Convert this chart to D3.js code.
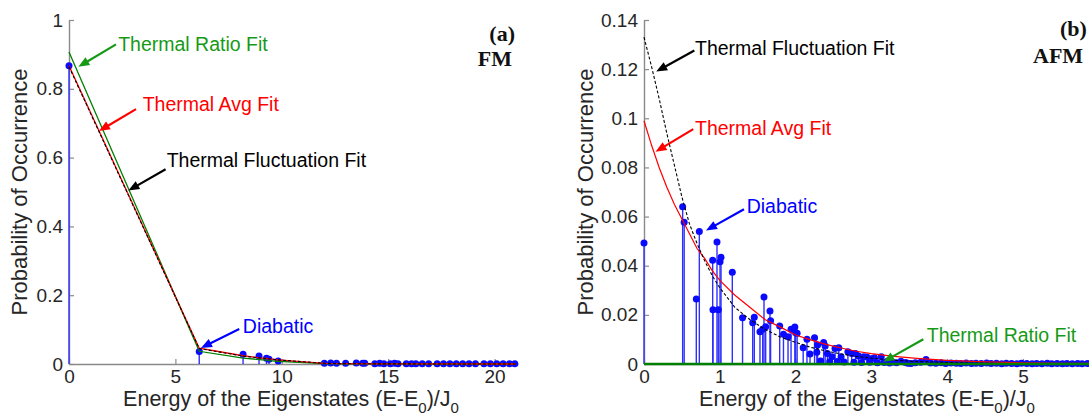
<!DOCTYPE html>
<html><head><meta charset="utf-8">
<script src="https://cdn.jsdelivr.net/npm/d3@7/dist/d3.min.js"></script>
<style>body{margin:0;background:#fff}svg{display:block}</style>
</head><body>
<svg id="chart" width="1089" height="415"></svg>
<script>
// ---------------- DATA ----------------
// Panel (a) FM
const leftEnergy = [0, 6.12, 8.18, 8.93, 9.28, 9.40, 9.83, 12.0, 12.3, 12.57, 13.0, 13.5, 13.8, 13.9, 14.37, 14.6, 14.8, 15.1, 15.3, 15.46, 15.85, 16.1, 16.3, 16.6, 16.9, 17.3, 17.6, 17.9, 18.2, 18.5, 18.8, 19.1, 19.5, 19.8, 20.1, 20.4, 20.7, 20.95];
const leftProb   = [0.867, 0.036, 0.028, 0.023, 0.017, 0.014, 0.009, 0.002, 0.003, 0.002, 0.002, 0.003, 0.002, 0.002, 0.001, 0.002, 0.001, 0.001, 0.002, 0.001, 0.001, 0.001, 0.001, 0.001, 0.001, 0.001, 0.001, 0.001, 0.001, 0.001, 0.001, 0.001, 0.001, 0.001, 0.001, 0.001, 0.001, 0.001];
const leftFitEnergy = [0, 6.12, 8.18, 8.93, 9.28, 9.40, 9.83, 12.0, 13.0, 15.0, 18.0, 21.0];
const leftAvgFit    = [0.867, 0.046, 0.024, 0.018, 0.016, 0.015, 0.012, 0.002, 0.001, 0.0003, 0.0001, 0];
const leftFluctFit  = [0.864, 0.045, 0.023, 0.018, 0.016, 0.015, 0.012, 0.002, 0.001, 0.0003, 0.0001, 0];
const leftRatioFit  = [0.907, 0.037, 0.017, 0.013, 0.011, 0.010, 0.008, 0.001, 0.0005, 0.0001, 0, 0];
const leftXTicks = [0, 5, 10, 15, 20];
const leftYTicks = [0, 0.2, 0.4, 0.6, 0.8, 1];
const leftYLabels = ["0", "0.2", "0.4", "0.6", "0.8", "1"];

// Panel (b) AFM
const rightEnergy = [0.00, 0.51, 0.53, 0.69, 0.73, 0.906, 0.91, 0.963, 0.98, 1.003, 1.016, 1.165, 1.30, 1.434, 1.455, 1.53, 1.566, 1.583, 1.605, 1.662, 1.67, 1.79, 1.84, 1.90, 1.94, 1.99, 2.00, 2.02, 2.10, 2.15, 2.19, 2.25, 2.28, 2.29, 2.37, 2.39, 2.42, 2.48, 2.52, 2.57, 2.60, 2.69, 2.74, 2.79, 2.83, 2.90, 2.94, 3.01, 3.04, 3.13, 3.21, 3.28, 3.39, 3.45, 3.52, 3.58, 3.65, 3.72, 3.78, 3.85, 3.92, 3.98, 4.05, 4.12, 4.18, 4.25, 4.32, 4.38, 4.45, 4.52, 4.58, 4.65, 4.72, 4.78, 4.85, 4.92, 4.98, 5.05, 5.12, 5.18, 5.25, 5.32, 5.38, 5.45, 5.52, 5.58, 5.65, 5.72, 5.78, 5.85, 5.92, 5.98, 2.33, 2.45, 2.55, 2.64, 2.77, 2.87, 2.98, 3.08, 3.17, 3.24, 3.33, 3.48];
const rightProb   = [0.0492, 0.0640, 0.0577, 0.0265, 0.0539, 0.0422, 0.0221, 0.0497, 0.0221, 0.0416, 0.0434, 0.0373, 0.0188, 0.0168, 0.0190, 0.0131, 0.0141, 0.0273, 0.0152, 0.0216, 0.0176, 0.0155, 0.0121, 0.0111, 0.0141, 0.0151, 0.0127, 0.0125, 0.0066, 0.0101, 0.0041, 0.0107, 0.0048, 0.0077, 0.0088, 0.0073, 0.0043, 0.0029, 0.0063, 0.0066, 0.0029, 0.0050, 0.0043, 0.0043, 0.0033, 0.0029, 0.0028, 0.0022, 0.0025, 0.0029, 0.0011, 0.0008, 0.0011, 0.0006, 0.0002, 0.0005, 0.0007, 0.0018, 0.0004, 0.0003, 0.0005, 0.0002, 0.0004, 0.0003, 0.0002, 0.0004, 0.0002, 0.0003, 0.0002, 0.0004, 0.0002, 0.0003, 0.0001, 0.0003, 0.0002, 0.0001, 0.0003, 0.0002, 0.0001, 0.0002, 0.0001, 0.0003, 0.0001, 0.0002, 0.0001, 0.0002, 0.0001, 0.0002, 0.0001, 0.0002, 0.0001, 0.0002, 0.0012, 0.0009, 0.0010, 0.0008, 0.0007, 0.0006, 0.0007, 0.0005, 0.0006, 0.0004, 0.0005, 0.0003];
const rightFitEnergy = [0, 0.1, 0.2, 0.3, 0.4, 0.5, 0.6, 0.7, 0.8, 0.9, 1.0, 1.2, 1.4, 1.6, 1.8, 2.0, 2.2, 2.4, 2.6, 2.8, 3.0, 3.3, 3.6, 4.0, 4.5, 5.0, 5.5, 6.0];
const rightAvgFit   = [0.099, 0.089, 0.080, 0.072, 0.065, 0.059, 0.053, 0.047, 0.043, 0.038, 0.034, 0.028, 0.023, 0.018, 0.015, 0.0118, 0.0098, 0.0080, 0.0065, 0.0052, 0.0042, 0.0031, 0.0023, 0.0015, 0.0009, 0.0005, 0.0003, 0.0002];
const rightFluctFit = [0.133, 0.121, 0.108, 0.094, 0.081, 0.068, 0.057, 0.049, 0.042, 0.036, 0.031, 0.023, 0.018, 0.014, 0.011, 0.0088, 0.0068, 0.0053, 0.0041, 0.0031, 0.0024, 0.0015, 0.0010, 0.0006, 0.0003, 0.0001, 0.00005, 0.00003];
const rightRatioEnergy = [0, 1, 2, 3, 4, 5, 6];
const rightRatioFit    = [0, 0, 0, 0, 0, 0, 0];
const rightXTicks = [0, 1, 2, 3, 4, 5];
const rightYTicks = [0, 0.02, 0.04, 0.06, 0.08, 0.1, 0.12, 0.14];
const rightYLabels = ["0", "0.02", "0.04", "0.06", "0.08", "0.1", "0.12", "0.14"];

// annotations: [text, color, textE, textP, fromE, fromP, tipE, tipP]
const leftNotes = [
  ["Thermal Ratio Fit", "#169a16", 2.31, 0.911, 2.21, 0.929, 0.44, 0.864],
  ["Thermal Avg Fit", "#ff0000", 3.46, 0.735, 3.15, 0.741, 1.41, 0.677],
  ["Thermal Fluctuation Fit", "#000000", 4.59, 0.574, 4.54, 0.566, 2.79, 0.504],
  ["Diabatic", "#0000ff", 8.17, 0.091, 8.0, 0.102, 6.2, 0.0465]
];
const rightNotes = [
  ["Thermal Fluctuation Fit", "#000000", 0.673, 0.1259, 0.664, 0.1276, 0.161, 0.119],
  ["Thermal Avg Fit", "#ff0000", 0.673, 0.0932, 0.65, 0.0956, 0.152, 0.0864],
  ["Diabatic", "#0000ff", 1.355, 0.0613, 1.319, 0.063, 0.818, 0.0543],
  ["Thermal Ratio Fit", "#169a16", 3.73, 0.0091, 3.685, 0.0101, 3.157, 0.0009]
];

// ---------------- DRAW ----------------
const FONT = '"Liberation Sans", Arial, Helvetica, sans-serif';
const SERIF = '"Liberation Serif", "Times New Roman", serif';
const svg = d3.select("#chart");
svg.append("rect").attr("width", 1089).attr("height", 415).attr("fill", "#fff");

function styleAxis(g) {
  g.select(".domain").attr("stroke", "#8a8a8a").attr("stroke-width", 1.4);
  g.selectAll(".tick line").attr("stroke", "#8a8a8a").attr("stroke-width", 1.2);
  g.selectAll(".tick text").attr("fill", "#262626").style("font-size", "19px").style("font-family", FONT);
}

function arrow(g, x1, y1, x2, y2, color) {
  const dx = x2 - x1, dy = y2 - y1, L = Math.hypot(dx, dy);
  const ux = dx / L, uy = dy / L, hl = 11, hw = 4.5;
  const bx = x2 - ux * hl, by = y2 - uy * hl;
  g.append("line").attr("x1", x1).attr("y1", y1).attr("x2", bx + ux * 2).attr("y2", by + uy * 2)
    .attr("stroke", color).attr("stroke-width", 2.2);
  g.append("path").attr("d", `M${x2},${y2}L${bx - uy * hw},${by + ux * hw}L${bx + uy * hw},${by - ux * hw}Z`)
    .attr("fill", color);
}

function xTitle(g, cx, y) {
  const t = g.append("text").attr("x", cx).attr("y", y).attr("text-anchor", "middle")
    .attr("fill", "#262626").style("font-family", FONT).style("font-size", "21.5px");
  t.append("tspan").text("Energy of the Eigenstates (E-E");
  t.append("tspan").text("0").attr("dy", 7).style("font-size", "15px");
  t.append("tspan").text(")/J").attr("dy", -7);
  t.append("tspan").text("0").attr("dy", 7).style("font-size", "15px");
}

function panel(cfg) {
  const g = svg.append("g");
  const x = d3.scaleLinear().domain(cfg.xDomain).range(cfg.xRange);
  const y = d3.scaleLinear().domain(cfg.yDomain).range([364, 20]);

  const gx = g.append("g").attr("transform", "translate(0,364)")
    .call(d3.axisBottom(x).tickValues(cfg.xTicks).tickFormat(d3.format("d")).tickSize(-5).tickSizeOuter(0).tickPadding(6));
  styleAxis(gx);
  const gy = g.append("g").attr("transform", `translate(${cfg.xRange[0]},0)`)
    .call(d3.axisLeft(y).tickValues(cfg.yTicks).tickFormat((d, i) => cfg.yLabels[i]).tickSize(-5).tickSizeOuter(0).tickPadding(6));
  styleAxis(gy);

  const line = d3.line().x(d => x(d[0])).y(d => y(d[1]));
  const zip = (a, b) => a.map((v, i) => [v, b[i]]);
  const drawFit = (E, P, color, w, dash) => {
    const p = g.append("path").datum(zip(E, P)).attr("d", line).attr("fill", "none")
      .attr("stroke", color).attr("stroke-width", w);
    if (dash) p.attr("stroke-dasharray", dash);
  };

  const pts = zip(cfg.energy, cfg.prob);
  g.append("g").selectAll("line").data(pts).join("line")
    .attr("x1", d => x(d[0])).attr("x2", d => x(d[0]))
    .attr("y1", y(0)).attr("y2", d => y(d[1]))
    .attr("stroke", "#2f2fff").attr("stroke-width", 1.4);
  g.append("g").selectAll("circle").data(pts).join("circle")
    .attr("cx", d => x(d[0])).attr("cy", d => y(d[1])).attr("r", 3.5).attr("fill", "#0a0aff");
  cfg.fits(drawFit);

  cfg.notes.forEach(n => {
    arrow(g, x(n[4]), y(n[5]), x(n[6]), y(n[7]), n[1]);
    g.append("text").attr("x", x(n[2])).attr("y", y(n[3])).text(n[0])
      .attr("fill", n[1]).style("font-family", FONT).style("font-size", "19.5px");
  });

  xTitle(g, cfg.titleX, 406);
  g.append("text").attr("transform", `translate(${cfg.yTitleX},192) rotate(-90)`)
    .attr("text-anchor", "middle").attr("fill", "#262626")
    .style("font-family", FONT).style("font-size", "22px").text("Probability of Occurrence");
  return g;
}

panel({
  xDomain: [0, 21.1], xRange: [69, 518], yDomain: [0, 1],
  xTicks: leftXTicks, yTicks: leftYTicks, yLabels: leftYLabels,
  energy: leftEnergy, prob: leftProb,
  fits: f => {
    f(leftFitEnergy, leftRatioFit, "#008000", 1.3);
    f(leftFitEnergy, leftAvgFit, "#ff0000", 1.3);
    f(leftFitEnergy, leftFluctFit, "#000000", 1.1, "3,2");
  },
  notes: leftNotes, titleX: 291, yTitleX: 27
});

panel({
  xDomain: [0, 6], xRange: [644, 644 + 6 * 75.8], yDomain: [0, 0.14],
  xTicks: rightXTicks, yTicks: rightYTicks, yLabels: rightYLabels,
  energy: rightEnergy, prob: rightProb,
  fits: f => {
    f(rightFitEnergy, rightAvgFit, "#ff0000", 1.2);
    f(rightFitEnergy, rightFluctFit, "#000000", 1.1, "3,2");
    f(rightRatioEnergy, rightRatioFit, "#008000", 2.6);
  },
  notes: rightNotes, titleX: 867, yTitleX: 593
});

const lab = (txt, x, y, anchor) => svg.append("text").attr("x", x).attr("y", y).attr("text-anchor", anchor)
  .text(txt).style("font-family", SERIF).style("font-weight", "bold").style("font-size", "22px").attr("fill", "#111");
lab("(a)", 515, 41, "end");
lab("FM", 512, 66, "end");
lab("(b)", 1060, 36, "start");
lab("AFM", 1033, 63, "start");
</script>
</body></html>
